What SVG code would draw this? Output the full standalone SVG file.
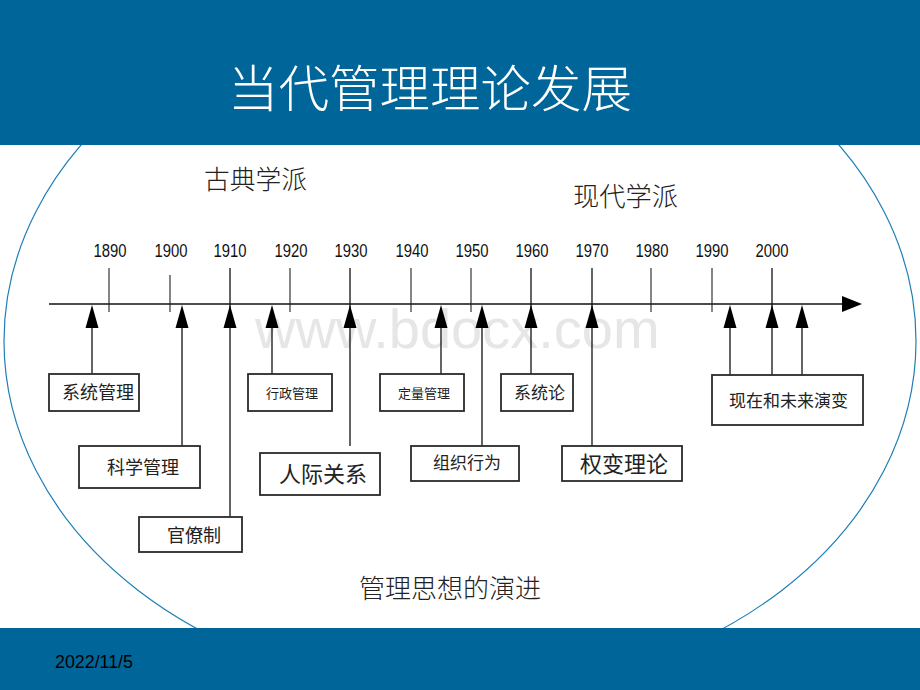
<svg xmlns="http://www.w3.org/2000/svg" width="920" height="690" viewBox="0 0 920 690">
<defs>
<style>
.cjk{font-family:"Noto Sans CJK SC","Noto Sans",sans-serif;fill:#222}
.lt{font-weight:300}
.yr{font-family:"Liberation Sans",Arial,sans-serif;font-size:18px;fill:#111}
.box{fill:#fff;stroke:#2a2a2a;stroke-width:1.8}
.ln{stroke:#111;stroke-width:1.3;fill:none}
.tk{stroke:#222;stroke-width:1.1;fill:none}
.ah{fill:#000}
</style>
</defs>
<rect x="0" y="0" width="920" height="690" fill="#fff"/>
<ellipse cx="460" cy="341" rx="456" ry="352" fill="#fff" stroke="#1f7fb5" stroke-width="1.2"/>
<rect x="0" y="0" width="920" height="145" fill="#006699"/>
<rect x="0" y="628" width="920" height="62" fill="#006699"/>
<text x="228" y="107" font-family="Noto Sans CJK SC,sans-serif" font-weight="300" font-size="50" fill="#fff" textLength="404" lengthAdjust="spacingAndGlyphs">当代管理理论发展</text>
<text x="55" y="668" font-family="Liberation Sans,Arial,sans-serif" font-size="18" fill="#000" textLength="78" lengthAdjust="spacingAndGlyphs">2022/11/5</text>
<text x="255" y="348" font-family="Liberation Sans,Arial,sans-serif" font-size="56" fill="#e6e6e6">www.bdocx.com</text>
<g id="headings">
<text class="cjk lt" x="204" y="189" font-size="26" textLength="103" lengthAdjust="spacingAndGlyphs">古典学派</text>
<text class="cjk lt" x="573" y="206" font-size="26" textLength="105" lengthAdjust="spacingAndGlyphs">现代学派</text>
<text class="cjk lt" x="359" y="598" font-size="26" textLength="182" lengthAdjust="spacingAndGlyphs">管理思想的演进</text>
</g>
<g id="years">
<text class="yr" x="110" y="257" text-anchor="middle" textLength="33" lengthAdjust="spacingAndGlyphs">1890</text>
<text class="yr" x="171" y="257" text-anchor="middle" textLength="33" lengthAdjust="spacingAndGlyphs">1900</text>
<text class="yr" x="230" y="257" text-anchor="middle" textLength="33" lengthAdjust="spacingAndGlyphs">1910</text>
<text class="yr" x="291" y="257" text-anchor="middle" textLength="33" lengthAdjust="spacingAndGlyphs">1920</text>
<text class="yr" x="351" y="257" text-anchor="middle" textLength="33" lengthAdjust="spacingAndGlyphs">1930</text>
<text class="yr" x="412" y="257" text-anchor="middle" textLength="33" lengthAdjust="spacingAndGlyphs">1940</text>
<text class="yr" x="472" y="257" text-anchor="middle" textLength="33" lengthAdjust="spacingAndGlyphs">1950</text>
<text class="yr" x="532" y="257" text-anchor="middle" textLength="33" lengthAdjust="spacingAndGlyphs">1960</text>
<text class="yr" x="592" y="257" text-anchor="middle" textLength="33" lengthAdjust="spacingAndGlyphs">1970</text>
<text class="yr" x="652" y="257" text-anchor="middle" textLength="33" lengthAdjust="spacingAndGlyphs">1980</text>
<text class="yr" x="712" y="257" text-anchor="middle" textLength="33" lengthAdjust="spacingAndGlyphs">1990</text>
<text class="yr" x="772" y="257" text-anchor="middle" textLength="33" lengthAdjust="spacingAndGlyphs">2000</text>
</g>
<g id="connectors">
<line class="ln" x1="49" y1="304" x2="845" y2="304"/>
<polygon class="ah" points="842,296 862,304 842,312"/>
<line class="tk" x1="109" y1="268" x2="109" y2="312"/>
<line class="tk" x1="170" y1="275" x2="170" y2="312"/>
<line class="tk" x1="290" y1="268" x2="290" y2="312"/>
<line class="tk" x1="411" y1="268" x2="411" y2="312"/>
<line class="tk" x1="471" y1="268" x2="471" y2="312"/>
<line class="tk" x1="651" y1="268" x2="651" y2="312"/>
<line class="tk" x1="712" y1="268" x2="712" y2="312"/>
<line class="ln" x1="230" y1="268" x2="230" y2="517"/>
<line class="ln" x1="350" y1="268" x2="350" y2="446"/>
<line class="ln" x1="531" y1="268" x2="531" y2="374"/>
<line class="ln" x1="592" y1="268" x2="592" y2="446"/>
<line class="ln" x1="772" y1="268" x2="772" y2="375"/>
<line class="ln" x1="92" y1="320" x2="92" y2="374"/>
<line class="ln" x1="182" y1="320" x2="182" y2="446"/>
<line class="ln" x1="272" y1="320" x2="272" y2="374"/>
<line class="ln" x1="441" y1="320" x2="441" y2="374"/>
<line class="ln" x1="482" y1="320" x2="482" y2="446"/>
<line class="ln" x1="730" y1="320" x2="730" y2="375"/>
<line class="ln" x1="802" y1="320" x2="802" y2="375"/>
<polygon class="ah" points="92,305 85.5,328 98.5,328"/>
<polygon class="ah" points="182,305 175.5,328 188.5,328"/>
<polygon class="ah" points="230,305 223.5,328 236.5,328"/>
<polygon class="ah" points="272,305 265.5,328 278.5,328"/>
<polygon class="ah" points="350,305 343.5,328 356.5,328"/>
<polygon class="ah" points="441,305 434.5,328 447.5,328"/>
<polygon class="ah" points="482,305 475.5,328 488.5,328"/>
<polygon class="ah" points="531,305 524.5,328 537.5,328"/>
<polygon class="ah" points="592,305 585.5,328 598.5,328"/>
<polygon class="ah" points="730,305 723.5,328 736.5,328"/>
<polygon class="ah" points="772,305 765.5,328 778.5,328"/>
<polygon class="ah" points="802,305 795.5,328 808.5,328"/>
</g>
<g id="n-xitongguanli"><rect class="box" x="49" y="374" width="90" height="37"/><text class="cjk" x="62" y="399" font-size="18">系统管理</text></g>
<g id="n-kexueguanli"><rect class="box" x="79" y="446" width="121" height="42"/><text class="cjk" x="107" y="474" font-size="18">科学管理</text></g>
<g id="n-guanliaozhi"><rect class="box" x="139" y="517" width="103" height="35"/><text class="cjk" x="167" y="542" font-size="18">官僚制</text></g>
<g id="n-xingzhengguanli"><rect class="box" x="248" y="374" width="84" height="37"/><text class="cjk" x="266" y="398" font-size="13">行政管理</text></g>
<g id="n-renjiguanxi"><rect class="box" x="260" y="453" width="120" height="42"/><text class="cjk" x="279" y="482" font-size="22">人际关系</text></g>
<g id="n-dingliangguanli"><rect class="box" x="380" y="374" width="84" height="37"/><text class="cjk" x="398" y="398" font-size="13">定量管理</text></g>
<g id="n-zuzhixingwei"><rect class="box" x="411" y="446" width="108" height="35"/><text class="cjk" x="433" y="469" font-size="17">组织行为</text></g>
<g id="n-xitonglun"><rect class="box" x="501" y="374" width="72" height="37"/><text class="cjk" x="514" y="399" font-size="17">系统论</text></g>
<g id="n-quanbianlilun"><rect class="box" x="562" y="446" width="120" height="35"/><text class="cjk" x="580" y="472" font-size="22">权变理论</text></g>
<g id="n-xianzai"><rect class="box" x="712" y="375" width="151" height="50"/><text class="cjk" x="729" y="407" font-size="17">现在和未来演变</text></g>
</svg>
